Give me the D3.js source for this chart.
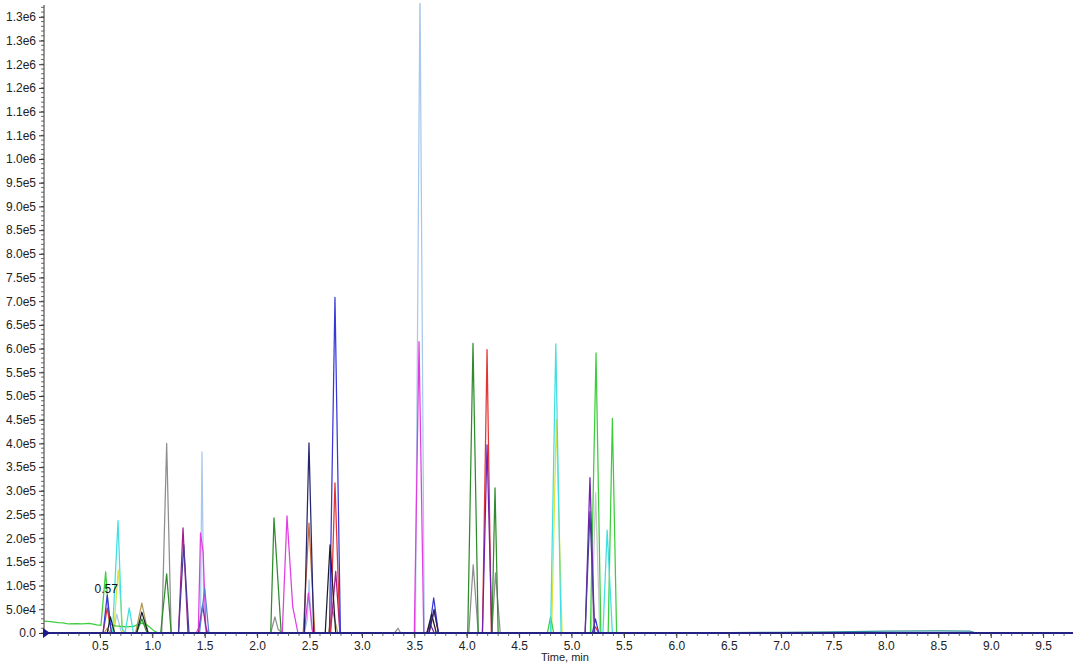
<!DOCTYPE html>
<html><head><meta charset="utf-8">
<script src="https://cdn.jsdelivr.net/npm/d3@7"></script>
<style>
body{margin:0;background:#fff}
svg{display:block}
text{font-family:"Liberation Sans",Arial,sans-serif}
</style>
</head><body>
<svg id="chart" width="1073" height="665"></svg>
<script>
// ---------- data ----------
const xTickValues = [0.5,1.0,1.5,2.0,2.5,3.0,3.5,4.0,4.5,5.0,5.5,6.0,6.5,7.0,7.5,8.0,8.5,9.0,9.5];
const xTickLabels = ["0.5","1.0","1.5","2.0","2.5","3.0","3.5","4.0","4.5","5.0","5.5","6.0","6.5","7.0","7.5","8.0","8.5","9.0","9.5"];
const yTickValues = [0,50000,100000,150000,200000,250000,300000,350000,400000,450000,500000,550000,600000,650000,700000,750000,800000,850000,900000,950000,1000000,1050000,1100000,1150000,1200000,1250000,1300000];
const yTickLabels = ["0.0","5.0e4","1.0e5","1.5e5","2.0e5","2.5e5","3.0e5","3.5e5","4.0e5","4.5e5","5.0e5","5.5e5","6.0e5","6.5e5","7.0e5","7.5e5","8.0e5","8.5e5","9.0e5","9.5e5","1.0e6","1.1e6","1.1e6","1.2e6","1.2e6","1.3e6","1.3e6"];
const xTitle = "Time, min";
const peakLabel = {time: 0.57, value: 80000, text: "0.57"};

// each trace: [time (min), intensity (cps)]
const lightGray = [[-0.03,0],[5.19,0],[5.23,296000],[5.27,0],[9.78,0]];
const tan = [[-0.03,0],[0.54,0],[0.57,10000],[0.6,0],[0.84,0],[0.9,63000],[0.96,0],[2.68,0],[2.72,48000],[2.77,0],[9.78,0]];
const teal = [[5.9,0],[6.5,800],[7.0,1500],[7.5,2500],[8.0,3800],[8.5,4500],[8.8,4200],[8.86,0],[9.78,0]];
const lightBlue = [[-0.03,0],[0.63,0],[0.66,40000],[0.7,5000],[0.72,0],[1.44,0],[1.46,40000],[1.474,382000],[1.49,60000],[1.51,0],[2.45,0],[2.48,30000],[2.495,112000],[2.52,10000],[2.54,0],[3.51,0],[3.554,1360000],[3.595,0],[9.78,0]];
const yellow = [[-0.03,0],[0.63,0],[0.675,133000],[0.72,0],[4.81,0],[4.855,450000],[4.91,0],[9.78,0]];
const green = [[-0.03,25000],[0.03,24000],[0.1,22000],[0.15,21500],[0.2,19000],[0.27,20000],[0.33,19000],[0.4,20500],[0.47,17000],[0.51,16000],[0.555,129000],[0.59,20000],[0.65,15000],[0.75,13000],[0.82,14000],[0.9,21000],[0.95,17000],[1.02,4000],[1.06,0],[4.77,0],[4.8,34000],[4.83,0],[5.18,0],[5.234,591000],[5.28,0],[5.35,0],[5.39,453000],[5.43,0],[9.78,0]];
const cyan = [[-0.03,0],[0.62,0],[0.673,237000],[0.71,10000],[0.74,0],[0.78,53000],[0.82,0],[4.8,0],[4.85,610000],[4.9,0],[5.3,0],[5.34,217000],[5.39,0],[9.78,0]];
const gray = [[-0.03,0],[1.09,0],[1.137,400000],[1.18,0],[2.13,0],[2.17,34000],[2.2,8000],[2.24,0],[3.31,0],[3.344,10000],[3.37,0],[4.02,0],[4.062,144000],[4.11,0],[4.24,0],[4.275,127000],[4.32,0],[9.78,0]];
const darkGreen = [[-0.03,0],[0.85,0],[0.9,30000],[0.95,0],[1.08,0],[1.137,125000],[1.18,0],[2.13,0],[2.161,243000],[2.23,0],[4.01,0],[4.06,611000],[4.11,0],[4.24,0],[4.27,306000],[4.3,0],[9.78,0]];
const sienna = [[-0.03,0],[2.44,0],[2.495,232000],[2.55,0],[9.78,0]];
const magenta = [[-0.03,0],[1.42,0],[1.44,10000],[1.46,211000],[1.485,170000],[1.51,15000],[1.53,0],[2.24,0],[2.285,247000],[2.34,55000],[2.39,0],[2.45,0],[2.49,84000],[2.53,0],[3.5,0],[3.545,615000],[3.59,0],[9.78,0]];
const darkMagenta = [[-0.03,0],[1.25,0],[1.293,222000],[1.34,0],[1.44,0],[1.48,59000],[1.52,0],[2.7,0],[2.75,130000],[2.79,0],[9.78,0]];
const red = [[-0.03,0],[0.53,0],[0.57,53000],[0.61,0],[2.7,0],[2.743,317000],[2.79,0],[3.64,0],[3.69,46000],[3.73,0],[4.15,0],[4.194,598000],[4.235,0],[5.2,0],[5.228,13000],[5.26,0],[9.78,0]];
const blue = [[-0.03,0],[0.53,0],[0.57,80000],[0.61,0],[2.69,0],[2.743,708000],[2.795,0],[3.64,0],[3.685,74000],[3.73,0],[5.2,0],[5.228,30000],[5.26,0],[9.78,0]];
const cornflower = [[-0.03,0],[1.45,0],[1.50,95000],[1.54,0],[9.78,0]];
const purple = [[-0.03,0],[3.62,0],[3.65,20000],[3.69,0],[4.15,0],[4.194,397000],[4.24,0],[5.13,0],[5.176,328000],[5.22,0],[9.78,0]];
const slate = [[-0.03,0],[1.25,0],[1.3,186000],[1.35,0],[5.13,0],[5.176,256000],[5.22,0],[9.78,0]];
const black = [[-0.03,0],[0.57,0],[0.6,34000],[0.64,0],[0.85,0],[0.9,44000],[0.96,0],[2.65,0],[2.696,186000],[2.75,0],[3.62,0],[3.665,40000],[3.71,0],[9.78,0]];
const navy = [[-0.03,0],[2.45,0],[2.495,401000],[2.54,0],[3.64,0],[3.688,50000],[3.73,0],[9.78,0]];

const traces = [
  {data: lightGray, color: "#c9c9c9"},
  {data: tan, color: "#b39a5c"},
  {data: teal, color: "#2f8fa0"},
  {data: lightBlue, color: "#a8c8ec"},
  {data: yellow, color: "#dbe43a"},
  {data: green, color: "#3ccd3c"},
  {data: cyan, color: "#3fdfe2"},
  {data: gray, color: "#8e8e8e"},
  {data: darkGreen, color: "#2e8b2e"},
  {data: sienna, color: "#c46a3a"},
  {data: magenta, color: "#e03ee0"},
  {data: darkMagenta, color: "#a01f8a"},
  {data: red, color: "#e23434"},
  {data: blue, color: "#3838d8"},
  {data: cornflower, color: "#5a7cd4"},
  {data: purple, color: "#7320b0"},
  {data: slate, color: "#4a3d9a"},
  {data: black, color: "#1e1e2a"},
  {data: navy, color: "#262670"}
];

// ---------- layout ----------
const svg = d3.select("#chart");
const mLeft = 44, mRight = 1073, mTop = 5, mBottom = 633;
const x = d3.scaleLinear().domain([-0.0334, 9.785]).range([mLeft, mRight]);
const y = d3.scaleLinear().domain([0, 1325000]).range([mBottom, mTop]);

svg.append("defs").append("clipPath").attr("id","plotclip")
  .append("rect").attr("x", mLeft).attr("y", 3).attr("width", mRight-mLeft).attr("height", mBottom-3+2);

const g = svg.append("g").attr("clip-path","url(#plotclip)");
const line = d3.line().x(d => x(d[0])).y(d => y(d[1]));
traces.forEach(t => {
  g.append("path").attr("d", line(t.data)).attr("fill","none")
    .attr("stroke", t.color).attr("stroke-width", 1.25).attr("stroke-linejoin","round");
});

// y axis
const yAxis = d3.axisLeft(y).tickValues(yTickValues).tickSize(5).tickPadding(3)
  .tickFormat((d,i) => yTickLabels[i]);
const yg = svg.append("g").attr("transform", `translate(${mLeft},0)`).call(yAxis);
yg.select(".domain").attr("stroke","#333").attr("d", `M0,${mTop}V${mBottom}`);
yg.selectAll(".tick line").attr("stroke","#333");
yg.selectAll(".tick text").attr("font-size", 12).attr("fill","#222")
  .style("font-family", '"Liberation Sans",Arial,sans-serif');
const yMinor = d3.range(0, 1325000, 10000);
svg.append("g").selectAll("line").data(yMinor).join("line")
  .attr("x1", mLeft-3).attr("x2", mLeft).attr("y1", d => y(d)).attr("y2", d => y(d))
  .attr("stroke","#444").attr("stroke-width",0.8);

// x axis
const xAxis = d3.axisBottom(x).tickValues(xTickValues).tickSize(5).tickPadding(3)
  .tickFormat((d,i) => xTickLabels[i]);
const xg = svg.append("g").attr("transform", `translate(0,${mBottom})`).call(xAxis);
xg.select(".domain").attr("stroke","#1f1f90").attr("stroke-width",1.5).attr("d", `M${mLeft},0H${mRight}`);
xg.selectAll(".tick line").attr("stroke","#333");
xg.selectAll(".tick text").attr("font-size", 12).attr("fill","#222")
  .style("font-family", '"Liberation Sans",Arial,sans-serif');
const xMinor = d3.range(1, 98).map(i => i/10);
svg.append("g").selectAll("line").data(xMinor).join("line")
  .attr("x1", d => x(d)).attr("x2", d => x(d)).attr("y1", mBottom).attr("y2", mBottom+3)
  .attr("stroke","#444").attr("stroke-width",0.8);

svg.append("text").attr("x", 565).attr("y", 661).attr("text-anchor","middle")
  .attr("font-size", 11).attr("fill","#222").text(xTitle);

// peak annotation
svg.append("text").attr("x", x(peakLabel.time)-1).attr("y", y(peakLabel.value)-2)
  .attr("text-anchor","middle").attr("font-size", 12).attr("fill","#111").text(peakLabel.text);

// start marker
svg.append("path").attr("d", `M${mLeft-1},${mBottom-5}L${mLeft+6},${mBottom}L${mLeft-1},${mBottom+5}Z`).attr("fill","#1a1a8a");
</script>
</body></html>
